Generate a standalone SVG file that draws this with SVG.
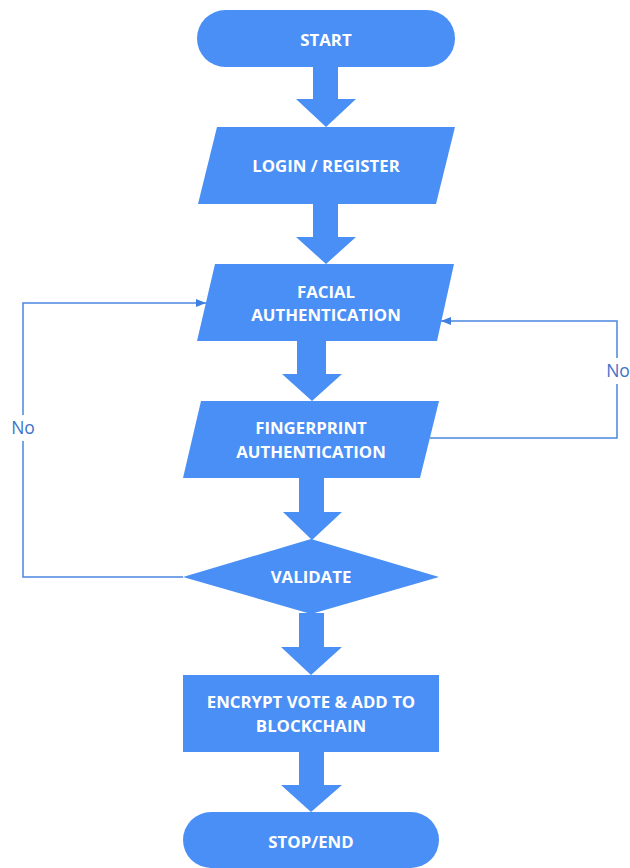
<svg xmlns="http://www.w3.org/2000/svg" width="630" height="868" viewBox="0 0 630 868">
  <defs>
    <style>
      .shape { fill: #4a8ff5; }
      .flow { fill: #4a8ff5; }
      .label { font-family: "Open Sans", "Liberation Sans", sans-serif; font-size: 16.8px; font-weight: 700; fill: #ffffff; text-anchor: middle; }
      .link { fill: none; stroke: #4a86e0; stroke-width: 1.5; }
      .tag { font-family: "Open Sans", "Liberation Sans", sans-serif; font-size: 17.5px; fill: #3d73c8; text-anchor: middle; }
    </style>
    <marker id="tip" viewBox="0 0 10 10" refX="10" refY="5" markerWidth="10" markerHeight="10" markerUnits="userSpaceOnUse" orient="auto">
      <path d="M0,1 L10,5 L0,9 Z" fill="#3f7fe0"/>
    </marker>
  </defs>
  <rect width="630" height="868" fill="#ffffff"/>

  <!-- block arrows and feedback links -->
  <g id="connectors">
    <polygon class="flow" points="313,67 338,67 338,99 356,99 326,127 296,99 313,99"/>
    <polygon class="flow" points="313,204 338,204 338,237 356,237 326,264 296,237 313,237"/>
    <polygon class="flow" points="297,341 326,341 326,374 342,374 312,401 282,374 297,374"/>
    <polygon class="flow" points="299,478 324,478 324,512 342,512 312,540 283,512 299,512"/>
    <polygon class="flow" points="299,613 324,613 324,647 342,647 311,675 281,647 299,647"/>
    <polygon class="flow" points="299,752 324,752 324,785 342,785 311,812 281,785 299,785"/>

    <g id="link-validate-facial">
      <polyline class="link" points="183,577 23,577 23,303 206,303" marker-end="url(#tip)"/>
      <rect x="9" y="415" width="28" height="26" fill="#ffffff"/>
      <text class="tag" x="23" y="434">No</text>
    </g>
    <g id="link-fingerprint-facial">
      <polyline class="link" points="430,438 617,438 617,321 441,321" marker-end="url(#tip)"/>
      <rect x="603" y="358" width="27" height="26" fill="#ffffff"/>
      <text class="tag" x="618" y="377">No</text>
    </g>
  </g>

  <g id="start">
    <rect class="shape" x="197" y="10" width="258" height="57" rx="28.5"/>
    <text class="label" x="326" y="46">START</text>
  </g>

  <g id="login">
    <polygon class="shape" points="217,127 455,127 436,204 198,204"/>
    <text class="label" x="326" y="172">LOGIN / REGISTER</text>
  </g>

  <g id="facial">
    <polygon class="shape" points="215,264 454,264 437,341 197,341"/>
    <text class="label" x="326" y="298">FACIAL</text>
    <text class="label" x="326" y="321">AUTHENTICATION</text>
  </g>

  <g id="fingerprint">
    <polygon class="shape" points="201,401 439,401 420,478 183,478"/>
    <text class="label" x="311" y="434">FINGERPRINT</text>
    <text class="label" x="311" y="458">AUTHENTICATION</text>
  </g>

  <g id="validate">
    <polygon class="shape" points="311,539 439,577 311,614 183,577"/>
    <text class="label" x="311" y="583">VALIDATE</text>
  </g>

  <g id="encrypt">
    <rect class="shape" x="183" y="675" width="256" height="77"/>
    <text class="label" x="311" y="708">ENCRYPT VOTE &amp; ADD TO</text>
    <text class="label" x="311" y="732">BLOCKCHAIN</text>
  </g>

  <g id="stop">
    <rect class="shape" x="183" y="812" width="256" height="56" rx="28"/>
    <text class="label" x="311" y="848">STOP/END</text>
  </g>
</svg>
